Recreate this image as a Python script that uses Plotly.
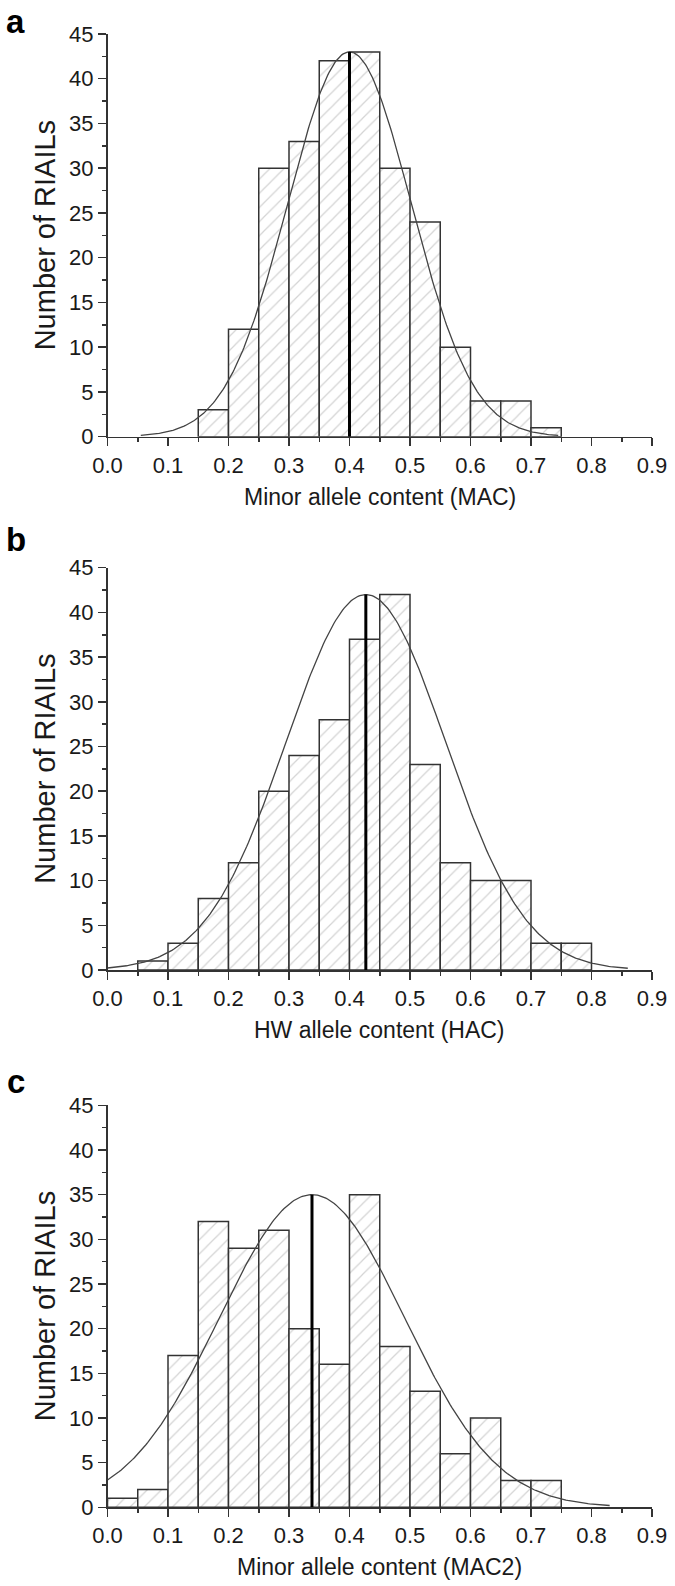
import numpy as np
import plotly.graph_objects as go

# ---------------- data ----------------
bin_width = 0.05

a_bin_left = [0.15, 0.20, 0.25, 0.30, 0.35, 0.40, 0.45, 0.50, 0.55, 0.60, 0.65, 0.70]
a_counts = [3, 12, 30, 33, 42, 43, 30, 24, 10, 4, 4, 1]

b_bin_left = [0.05, 0.10, 0.15, 0.20, 0.25, 0.30, 0.35, 0.40, 0.45, 0.50, 0.55, 0.60, 0.65, 0.70, 0.75]
b_counts = [1, 3, 8, 12, 20, 24, 28, 37, 42, 23, 12, 10, 10, 3, 3]

c_bin_left = [0.00, 0.05, 0.10, 0.15, 0.20, 0.25, 0.30, 0.35, 0.40, 0.45, 0.50, 0.55, 0.60, 0.65, 0.70]
c_counts = [1, 2, 17, 32, 29, 31, 20, 16, 35, 18, 13, 6, 10, 3, 3]

# normal-fit overlay parameters: mean, sd, peak height, drawn x-range
a_fit = dict(mean=0.400, sd=0.102, peak=43, x0=0.055, x1=0.745)
b_fit = dict(mean=0.427, sd=0.132, peak=42, x0=0.000, x1=0.860)
c_fit = dict(mean=0.338, sd=0.153, peak=35, x0=0.000, x1=0.830)

x_titles = ["Minor allele content (MAC)", "HW allele content (HAC)", "Minor allele content (MAC2)"]
y_title = "Number of RIAILs"
panel_letters = ["a", "b", "c"]
x_ticks = [0.0, 0.1, 0.2, 0.3, 0.4, 0.5, 0.6, 0.7, 0.8, 0.9]
y_ticks = [0, 5, 10, 15, 20, 25, 30, 35, 40, 45]

# ---------------- layout geometry (page pixels) ----------------
W, H = 675, 1586
x_left_px, x_right_px = 107.5, 652.0
panels_px = [(34.0, 436.7), (567.7, 970.0), (1105.3, 1507.3)]  # (top, bottom)
letter_px = [(4, 22), (4, 539), (5, 1081)]


def fx(px):
    return px / W


def fy(py):
    return (H - py) / H


FONT = "Liberation Sans, Arial, Helvetica, sans-serif"
EDGE = "#333333"

fig = go.Figure()
layout = dict(
    template="none",
    width=W, height=H,
    margin=dict(l=0, r=0, t=0, b=0, autoexpand=False),
    paper_bgcolor="white", plot_bgcolor="white",
    showlegend=False,
    annotations=[],
)

datasets = [(a_bin_left, a_counts, a_fit), (b_bin_left, b_counts, b_fit), (c_bin_left, c_counts, c_fit)]

for i, (lefts, counts, fit) in enumerate(datasets):
    xa = "x" if i == 0 else f"x{i+1}"
    ya = "y" if i == 0 else f"y{i+1}"
    centers = [l + bin_width / 2 for l in lefts]
    fig.add_trace(go.Bar(
        x=centers, y=counts, width=bin_width,
        xaxis=xa, yaxis=ya,
        marker=dict(
            color="white",
            line=dict(color=EDGE, width=1.5),
            pattern=dict(shape="/", fgcolor="#d4d4d4", bgcolor="white",
                         size=10, solidity=0.12, fillmode="replace"),
        ),
        hoverinfo="x+y",
    ))
    xs = np.linspace(fit["x0"], fit["x1"], 300)
    ys = fit["peak"] * np.exp(-((xs - fit["mean"]) ** 2) / (2 * fit["sd"] ** 2))
    fig.add_trace(go.Scatter(x=xs, y=ys, mode="lines", xaxis=xa, yaxis=ya,
                             line=dict(color="#444444", width=1.3)))
    fig.add_trace(go.Scatter(x=[fit["mean"], fit["mean"]], y=[0, fit["peak"]],
                             mode="lines", xaxis=xa, yaxis=ya,
                             line=dict(color="black", width=3)))

    top, bot = panels_px[i]
    xkey = "xaxis" if i == 0 else f"xaxis{i+1}"
    ykey = "yaxis" if i == 0 else f"yaxis{i+1}"
    layout[xkey] = dict(
        domain=[fx(x_left_px), fx(x_right_px)],
        anchor=ya, range=[0, 0.9], automargin=False,
        tickmode="array", tickvals=x_ticks,
        ticktext=[f"{v:.1f}" for v in x_ticks],
        ticks="outside", ticklen=8, tickwidth=1.5, tickcolor=EDGE,
        minor=dict(ticks="outside", ticklen=4, tickwidth=1.5, tickcolor=EDGE, dtick=0.05, tick0=0, showgrid=False),
        showline=True, linecolor=EDGE, linewidth=1.5,
        showgrid=False, zeroline=False,
        tickfont=dict(family=FONT, size=22, color="#1a1a1a"),
        fixedrange=True,
    )
    layout[ykey] = dict(
        domain=[fy(bot), fy(top)],
        anchor=xa, range=[0, 45], automargin=False,
        tickmode="array", tickvals=y_ticks,
        ticks="outside", ticklen=8, tickwidth=1.5, tickcolor=EDGE,
        minor=dict(ticks="outside", ticklen=4, tickwidth=1.5, tickcolor=EDGE, dtick=2.5, tick0=0, showgrid=False),
        showline=True, linecolor=EDGE, linewidth=1.5,
        showgrid=False, zeroline=False,
        tickfont=dict(family=FONT, size=22, color="#1a1a1a"),
        fixedrange=True,
    )
    # x-axis title
    layout["annotations"].append(dict(
        text=x_titles[i], xref="paper", yref="paper",
        x=fx((x_left_px + x_right_px) / 2), y=fy(bot + 60),
        xanchor="center", yanchor="middle", showarrow=False,
        font=dict(family=FONT, size=23, color="#1a1a1a"),
    ))
    # y-axis title
    layout["annotations"].append(dict(
        text=y_title, xref="paper", yref="paper",
        x=fx(45), y=fy((top + bot) / 2), textangle=-90,
        xanchor="center", yanchor="middle", showarrow=False,
        font=dict(family=FONT, size=29, color="#1a1a1a"),
    ))
    # panel letter
    lx, ly = letter_px[i]
    layout["annotations"].append(dict(
        text=f"<b>{panel_letters[i]}</b>", xref="paper", yref="paper",
        x=fx(lx), y=fy(ly), xanchor="left", yanchor="middle", showarrow=False,
        font=dict(family=FONT, size=33, color="black"),
    ))

fig.update_layout(**layout)
fig.write_html(
    "out.html",
    config={"displayModeBar": False, "staticPlot": True},
    post_script="document.body.style.margin='0';document.body.style.padding='0';document.body.style.overflow='hidden';",
)
